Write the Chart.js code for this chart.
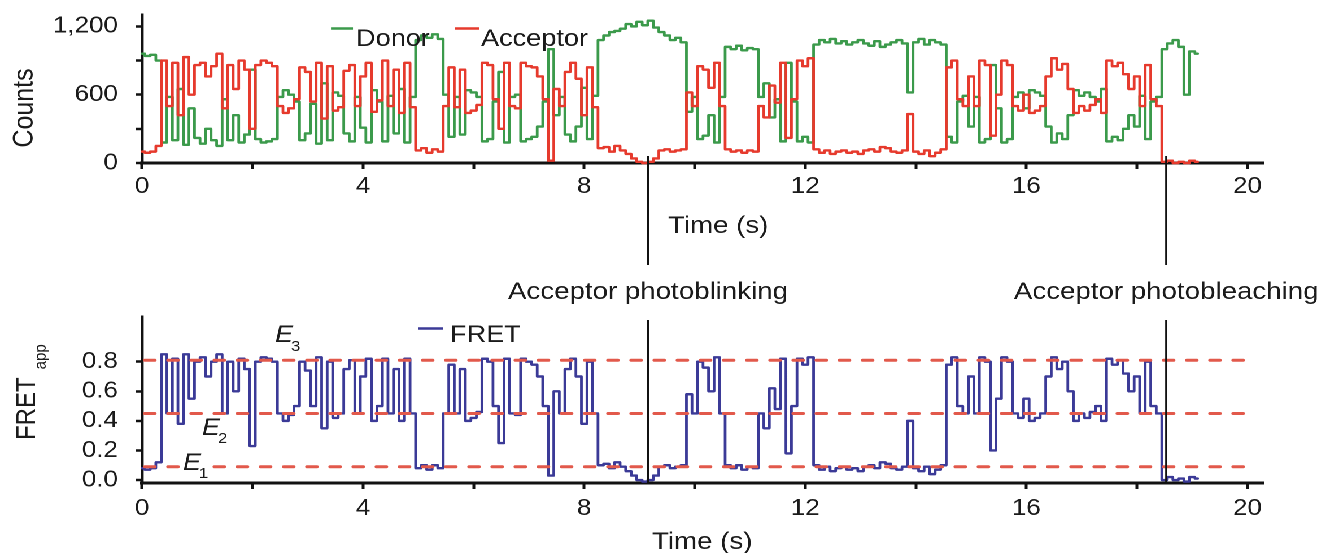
<!DOCTYPE html>
<html>
<head>
<meta charset="utf-8">
<script src="https://cdn.jsdelivr.net/npm/chart.js@4.4.0/dist/chart.umd.min.js"></script>
<style>
html,body{margin:0;padding:0;background:#fff;overflow:hidden;width:1317px;height:553px}
#wrap{position:absolute;left:0;top:0;width:1166px;height:553px;transform:scaleX(1.12951);transform-origin:0 0}
#topChart{position:absolute;left:0;top:0}
#botChart{position:absolute;left:0;top:300px}
</style>
</head>
<body>
<div id="wrap">
<canvas id="topChart" width="1166" height="320"></canvas>
<canvas id="botChart" width="1166" height="253"></canvas>
</div>
<script>
const SX = 1317 / 1166;
const FONT_FAMILY = '"Liberation Sans", Arial, Helvetica, sans-serif';
const INK = '#1b1b1b';

// ---- data (sampled every 0.1 s) ----
const frameInterval = 0.1;
const fret = [
 0.08,0.07,0.08,0.12,0.85,0.45,0.82,0.38,0.85,0.55,
 0.80,0.83,0.70,0.80,0.85,0.45,0.80,0.60,0.82,0.75,
 0.23,0.80,0.83,0.82,0.80,0.45,0.40,0.44,0.50,0.80,
 0.74,0.50,0.83,0.35,0.80,0.42,0.45,0.75,0.81,0.45,
 0.70,0.82,0.40,0.50,0.82,0.45,0.75,0.40,0.82,0.45,
 0.08,0.10,0.07,0.10,0.08,0.45,0.78,0.45,0.75,0.40,
 0.42,0.46,0.82,0.80,0.50,0.25,0.82,0.45,0.44,0.82,
 0.80,0.78,0.70,0.50,0.03,0.60,0.45,0.75,0.82,0.70,
 0.38,0.80,0.45,0.10,0.11,0.08,0.12,0.09,0.06,0.03,
 0.00,-0.01,0.00,0.03,0.09,0.10,0.08,0.09,0.10,0.58,
 0.45,0.80,0.76,0.60,0.83,0.45,0.10,0.08,0.10,0.07,
 0.09,0.08,0.45,0.35,0.62,0.48,0.82,0.18,0.50,0.82,
 0.78,0.83,0.10,0.07,0.09,0.06,0.08,0.09,0.07,0.08,
 0.06,0.09,0.10,0.08,0.12,0.11,0.08,0.07,0.09,0.40,
 0.08,0.06,0.09,0.04,0.07,0.10,0.78,0.83,0.50,0.45,
 0.70,0.45,0.83,0.80,0.20,0.55,0.83,0.80,0.45,0.42,
 0.55,0.40,0.42,0.45,0.70,0.83,0.75,0.80,0.60,0.40,
 0.45,0.42,0.46,0.50,0.40,0.82,0.78,0.81,0.72,0.60,
 0.70,0.45,0.80,0.50,0.45,0.00,0.02,0.00,0.01,-0.01,
 0.02,0.01
];
const donor = [
 960,940,950,900,180,580,200,650,160,480,
 220,170,300,200,150,560,200,420,180,250,
 820,210,180,190,210,580,640,600,540,200,
 260,520,170,700,200,620,590,260,190,580,
 310,180,640,540,190,590,260,650,180,580,
 1080,1120,1100,1130,1090,600,230,580,250,640,
 620,580,190,210,540,800,180,580,600,190,
 210,230,320,540,1000,420,580,250,190,320,
 660,210,590,1080,1120,1150,1160,1180,1220,1200,
 1240,1210,1250,1190,1150,1120,1080,1100,1060,450,
 580,210,240,420,180,580,1020,1000,1030,990,
 1010,1000,580,700,400,560,190,880,540,190,
 230,180,1040,1080,1060,1090,1050,1070,1040,1060,
 1080,1050,1030,1070,1020,1040,1060,1080,1050,620,
 1060,1090,1040,1080,1060,1040,230,180,540,590,
 320,580,180,210,860,480,180,210,580,620,
 480,640,620,590,320,180,260,210,420,640,
 590,620,580,540,650,190,230,200,300,420,
 320,590,210,540,580,1000,1050,1080,1020,600,
 980,960
];
const acceptor = [
 100,90,100,150,900,500,880,420,930,600,
 860,880,760,850,960,480,860,650,900,820,
 300,860,900,880,850,500,440,480,560,840,
 800,540,880,390,850,460,490,810,860,500,
 760,880,450,550,900,500,820,440,880,490,
 110,130,90,120,100,500,840,490,820,440,
 460,510,880,860,560,300,880,500,480,880,
 850,840,760,560,20,650,500,800,880,740,
 420,840,490,130,140,100,150,110,80,40,
 10,0,10,40,110,120,100,110,120,620,
 500,850,820,660,880,500,120,100,110,90,
 110,100,500,400,680,530,880,220,560,900,
 850,920,120,90,110,80,100,110,90,100,
 80,110,120,100,140,130,100,90,110,430,
 100,80,110,60,90,120,840,900,560,500,
 760,500,900,860,240,600,900,860,500,460,
 600,440,460,500,760,920,820,870,650,440,
 500,460,510,560,440,900,850,880,780,650,
 760,500,860,560,500,10,20,0,10,0,
 20,10
];
const fretLevels = [0.09, 0.45, 0.81];
const levelSpan = [0.05, 20.15];
const timeTicks = [0,2,4,6,8,10,12,14,16,18,20];
const timeTickLabels = ['0','','4','','8','','12','','16','','20'];
const countTicks = [0,300,600,900,1200];
const countTickLabels = ['0','','600','','1,200'];
const fretTicks = [0,0.2,0.4,0.6,0.8];
const fretTickLabels = ['0.0','0.2','0.4','0.6','0.8'];
const eventTimes = [9.155, 18.53];
const eventLabels = ['Acceptor photoblinking', 'Acceptor photobleaching'];

const COL_DONOR = '#3b9a4b';
const COL_ACC = '#e63a2d';
const COL_FRET = '#3b3a97';
const COL_LEVEL = '#e2594b';

const times = fret.map((_, i) => +(i * frameInterval).toFixed(2));
const pts = arr => arr.map((v, i) => ({x: times[i], y: v}));

// ---- helpers ----
function font(size, style) { return (style ? style + ' ' : '') + size + 'px ' + FONT_FAMILY; }
function text(ctx, s, xT, y, size, align, style) {
  ctx.save();
  ctx.font = font(size, style);
  ctx.fillStyle = INK;
  ctx.textAlign = align || 'left';
  ctx.textBaseline = 'alphabetic';
  ctx.fillText(s, xT / SX, y);
  ctx.restore();
}
function seg(ctx, x1T, x2T, y, color, w) {
  ctx.save();
  ctx.strokeStyle = color; ctx.lineWidth = w || 2.6;
  ctx.beginPath(); ctx.moveTo(x1T / SX, y); ctx.lineTo(x2T / SX, y); ctx.stroke();
  ctx.restore();
}
function vline(ctx, x, y1, y2) {
  ctx.save();
  ctx.strokeStyle = '#111'; ctx.lineWidth = 1.8;
  ctx.beginPath(); ctx.moveTo(x, y1); ctx.lineTo(x, y2); ctx.stroke();
  ctx.restore();
}

function xScale(pad) {
  return {
    type: 'linear', min: 0, max: 20.3,
    afterBuildTicks: s => { s.ticks = timeTicks.map(v => ({value: v})); },
    afterFit: s => { s.height = 40; s.paddingLeft = 0; s.paddingRight = 0; },
    ticks: { autoSkip: false, maxRotation: 0, padding: pad, color: INK,
      font: {family: FONT_FAMILY, size: 23},
      callback: (v, i) => timeTickLabels[i] },
    grid: { drawOnChartArea: false, drawTicks: true, tickLength: 6, tickWidth: 2.5, tickColor: '#111' },
    border: { display: true, color: '#111', width: 3 }
  };
}
function yScale(min, max, ticks, labels) {
  return {
    type: 'linear', min: min, max: max,
    afterBuildTicks: s => { s.ticks = ticks.map(v => ({value: v})); },
    afterFit: s => { s.width = 142 / SX; s.paddingTop = 0; s.paddingBottom = 0; },
    ticks: { padding: 16, color: INK, font: {family: FONT_FAMILY, size: 23},
      callback: (v, i) => labels[i] },
    grid: { drawOnChartArea: false, drawTicks: true, tickLength: 5.3, tickWidth: 2.5, tickColor: '#111' },
    border: { display: true, color: '#111', width: 2.7 }
  };
}

const common = {
  responsive: false, maintainAspectRatio: false, animation: false, devicePixelRatio: 2,
  plugins: { legend: {display: false}, tooltip: {enabled: false} },
  elements: { point: {radius: 0}, line: {tension: 0, borderJoinStyle: 'round', borderCapStyle: 'round'} }
};

// ---- top chart ----
const topDeco = {
  id: 'topDeco',
  afterDraw(chart) {
    const ctx = chart.ctx, xs = chart.scales.x;
    ctx.save();
    ctx.translate(33 / SX, 108);
    ctx.rotate(-Math.PI / 2);
    ctx.font = font(25); ctx.fillStyle = INK; ctx.textAlign = 'center';
    ctx.fillText('Counts', 0, 0);
    ctx.restore();
    seg(ctx, 331, 353, 28.5, COL_DONOR);
    text(ctx, 'Donor', 356, 46, 24);
    seg(ctx, 455, 479, 28.5, COL_ACC);
    text(ctx, 'Acceptor', 481, 46, 24);
    text(ctx, 'Time (s)', 668, 233, 24.5);
    eventTimes.forEach((t, i) => {
      const x = xs.getPixelForValue(t);
      vline(ctx, x, 156, 265);
      ctx.save();
      ctx.font = font(24.5); ctx.fillStyle = INK; ctx.textAlign = 'center';
      ctx.fillText(eventLabels[i], x, 299);
      ctx.restore();
    });
  }
};

new Chart(document.getElementById('topChart'), {
  type: 'line',
  data: {
    datasets: [
      { label: 'Donor', data: pts(donor), borderColor: COL_DONOR, borderWidth: 2.4, stepped: 'middle', order: 1, clip: false },
      { label: 'Acceptor', data: pts(acceptor), borderColor: COL_ACC, borderWidth: 2.4, stepped: 'middle', order: 0, clip: false }
    ]
  },
  options: Object.assign({}, common, {
    layout: { padding: { left: 0, right: 46.9, top: 15, bottom: 117 } },
    scales: { x: xScale(4), y: yScale(0, 1300, countTicks, countTickLabels) }
  }),
  plugins: [topDeco]
});

// ---- bottom chart ----
const OFF = 300;
const botDeco = {
  id: 'botDeco',
  afterDraw(chart) {
    const ctx = chart.ctx, xs = chart.scales.x;
    ctx.save();
    ctx.translate(35 / SX, 440 - OFF);
    ctx.rotate(-Math.PI / 2);
    ctx.fillStyle = INK; ctx.textAlign = 'left';
    ctx.font = font(24);
    ctx.fillText('FRET', 0, 0);
    const w = ctx.measureText('FRET').width;
    ctx.font = font(15);
    ctx.fillText('app', w + 8, 10.8 / SX);
    ctx.restore();
    seg(ctx, 418, 443, 328.5 - OFF, COL_FRET);
    text(ctx, 'FRET', 450, 342 - OFF, 24);
    ctx.save();
    ctx.fillStyle = '#fff';
    ctx.fillRect(181 / SX, 453 - OFF, 29 / SX, 25);
    ctx.restore();
    text(ctx, 'E', 275, 342 - OFF, 24, 'left', 'italic');
    text(ctx, '3', 291, 351 - OFF, 15);
    text(ctx, 'E', 202, 435 - OFF, 24, 'left', 'italic');
    text(ctx, '2', 218, 443 - OFF, 15);
    text(ctx, 'E', 183, 470 - OFF, 24, 'left', 'italic');
    text(ctx, '1', 199, 478 - OFF, 15);
    text(ctx, 'Time (s)', 652, 549 - OFF, 24.5);
    eventTimes.forEach(t => {
      const x = xs.getPixelForValue(t);
      vline(ctx, x, 320 - OFF, 483 - OFF);
    });
  }
};

const levelSets = fretLevels.map(v => ({
  label: 'E' + v, data: levelSpan.map(t => ({x: t, y: v})),
  borderColor: COL_LEVEL, borderWidth: 3, borderDash: [9, 11.5], order: 0
}));

new Chart(document.getElementById('botChart'), {
  type: 'line',
  data: {
    datasets: [
      { label: 'FRET', data: pts(fret), borderColor: COL_FRET, borderWidth: 2.4, stepped: 'middle', order: 1, clip: false }
    ].concat(levelSets)
  },
  options: Object.assign({}, common, {
    layout: { padding: { left: 0, right: 46.9, top: 16.6, bottom: 30 } },
    scales: { x: xScale(6), y: yScale(-0.02, 1.105, fretTicks, fretTickLabels) }
  }),
  plugins: [botDeco]
});
</script>
</body>
</html>
